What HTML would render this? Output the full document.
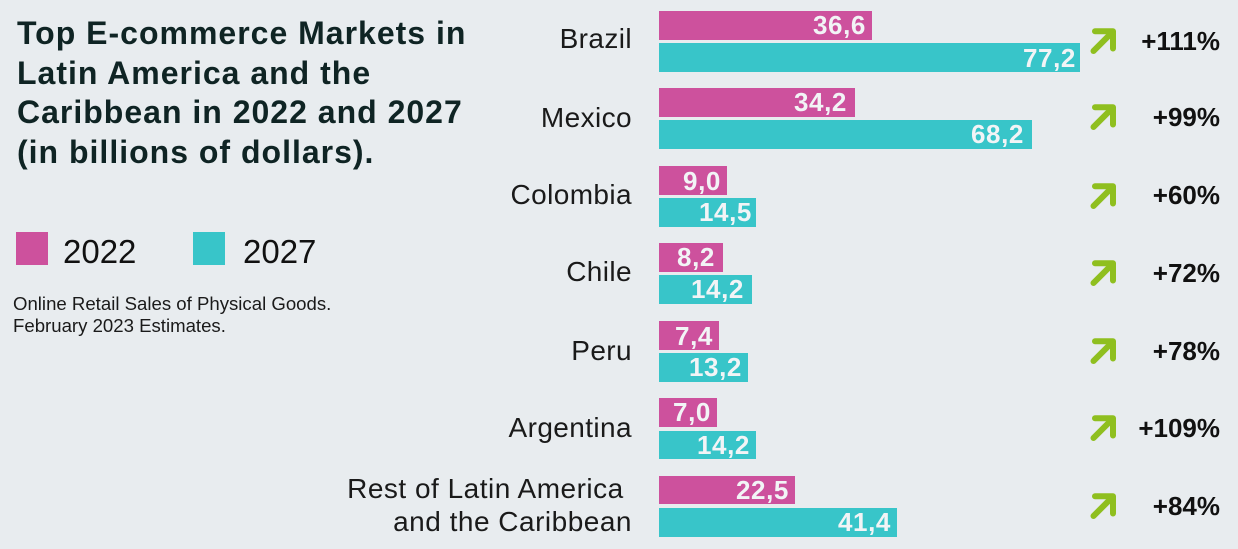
<!DOCTYPE html>
<html>
<head>
<meta charset="utf-8">
<style>
  html, body { margin:0; padding:0; }
  body {
    width:1238px; height:549px; overflow:hidden; position:relative;
    background:#e8ecef;
    font-family:"Liberation Sans", sans-serif;
  }
  .title {
    position:absolute; left:17px; top:14px; width:520px;
    font-size:32px; line-height:39.5px; font-weight:bold; color:#0f2424;
    letter-spacing:1px;
  }
  .sq { position:absolute; width:32px; height:33px; top:232px; }
  .leg { position:absolute; top:235px; font-size:33px; line-height:33px; color:#111; }
  .note { position:absolute; left:13px; top:292.6px; font-size:18.6px; line-height:22px; color:#1a1a1a; }
  .lab {
    position:absolute; right:606px; font-size:28px; line-height:28px; color:#1a1a1a;
    text-align:right; letter-spacing:0.4px; white-space:nowrap;
  }
  .bar {
    position:absolute; left:659px; box-sizing:border-box;
    display:flex; align-items:center; justify-content:flex-end;
    padding-right:6px;
    font-size:26px; line-height:26px; font-weight:bold; color:#f2f4f6; letter-spacing:0.6px;
  }
  .a { background:#cd519d; }
  .b { background:#38c5c9; }
  .pct {
    position:absolute; right:18px; font-size:26px; line-height:26px; font-weight:bold; color:#111;
    text-align:right; white-space:nowrap;
  }
  svg.arr { position:absolute; left:1089px; width:28px; height:28px; }
</style>
</head>
<body>
  <div class="title">Top E-commerce Markets in<br>Latin America and the<br>Caribbean in 2022 and 2027<br>(in billions of dollars).</div>

  <div class="sq" style="left:16px;background:#cd519d;"></div>
  <div class="leg" style="left:63px;">2022</div>
  <div class="sq" style="left:193px;background:#38c5c9;"></div>
  <div class="leg" style="left:243px;">2027</div>

  <div class="note">Online Retail Sales of Physical Goods.<br>February 2023 Estimates.</div>

  <!-- Country labels -->
  <div class="lab" style="top:25px;">Brazil</div>
  <div class="lab" style="top:104px;">Mexico</div>
  <div class="lab" style="top:181px;">Colombia</div>
  <div class="lab" style="top:258px;">Chile</div>
  <div class="lab" style="top:337px;">Peru</div>
  <div class="lab" style="top:414px;">Argentina</div>
  <div class="lab" style="top:471.9px; line-height:33.4px; letter-spacing:0.5px;">Rest of Latin America&nbsp;<br>and the Caribbean</div>

  <!-- Bars -->
  <div class="bar a" style="top:11px;height:28.5px;width:213px;">36,6</div>
  <div class="bar b" style="top:43px;height:29px;width:421px;padding-right:4px;">77,2</div>

  <div class="bar a" style="top:88px;height:28.7px;width:196px;padding-right:8px;">34,2</div>
  <div class="bar b" style="top:120px;height:28.7px;width:373px;padding-right:8px;">68,2</div>

  <div class="bar a" style="top:166px;height:29px;width:68px;">9,0</div>
  <div class="bar b" style="top:197.7px;height:29px;width:97px;padding-right:4px;">14,5</div>

  <div class="bar a" style="top:243px;height:28.7px;width:64px;padding-right:8px;">8,2</div>
  <div class="bar b" style="top:275px;height:28.7px;width:93px;padding-right:8px;">14,2</div>

  <div class="bar a" style="top:321px;height:29px;width:60px;">7,4</div>
  <div class="bar b" style="top:352.7px;height:29px;width:89px;">13,2</div>

  <div class="bar a" style="top:398px;height:28.7px;width:58px;">7,0</div>
  <div class="bar b" style="top:430.7px;height:28px;width:97px;">14,2</div>

  <div class="bar a" style="top:475.7px;height:28.6px;width:136px;">22,5</div>
  <div class="bar b" style="top:507.7px;height:29px;width:238px;">41,4</div>

  <!-- Arrows -->
  <svg class="arr" style="top:26.5px;" viewBox="0 0 28 28"><g fill="none" stroke="#8fbf1f" stroke-width="6" stroke-linecap="round"><path d="M4.5 24 L22 6.5"/><path d="M6 4.2 L24 4.2 L24 21.5" stroke-linejoin="round"/></g></svg>
  <svg class="arr" style="top:103px;" viewBox="0 0 28 28"><g fill="none" stroke="#8fbf1f" stroke-width="6" stroke-linecap="round"><path d="M4.5 24 L22 6.5"/><path d="M6 4.2 L24 4.2 L24 21.5" stroke-linejoin="round"/></g></svg>
  <svg class="arr" style="top:181.5px;" viewBox="0 0 28 28"><g fill="none" stroke="#8fbf1f" stroke-width="6" stroke-linecap="round"><path d="M4.5 24 L22 6.5"/><path d="M6 4.2 L24 4.2 L24 21.5" stroke-linejoin="round"/></g></svg>
  <svg class="arr" style="top:259px;" viewBox="0 0 28 28"><g fill="none" stroke="#8fbf1f" stroke-width="6" stroke-linecap="round"><path d="M4.5 24 L22 6.5"/><path d="M6 4.2 L24 4.2 L24 21.5" stroke-linejoin="round"/></g></svg>
  <svg class="arr" style="top:337px;" viewBox="0 0 28 28"><g fill="none" stroke="#8fbf1f" stroke-width="6" stroke-linecap="round"><path d="M4.5 24 L22 6.5"/><path d="M6 4.2 L24 4.2 L24 21.5" stroke-linejoin="round"/></g></svg>
  <svg class="arr" style="top:414px;" viewBox="0 0 28 28"><g fill="none" stroke="#8fbf1f" stroke-width="6" stroke-linecap="round"><path d="M4.5 24 L22 6.5"/><path d="M6 4.2 L24 4.2 L24 21.5" stroke-linejoin="round"/></g></svg>
  <svg class="arr" style="top:492px;" viewBox="0 0 28 28"><g fill="none" stroke="#8fbf1f" stroke-width="6" stroke-linecap="round"><path d="M4.5 24 L22 6.5"/><path d="M6 4.2 L24 4.2 L24 21.5" stroke-linejoin="round"/></g></svg>

  <!-- Percentages -->
  <div class="pct" style="top:28px;">+111%</div>
  <div class="pct" style="top:104px;">+99%</div>
  <div class="pct" style="top:182px;">+60%</div>
  <div class="pct" style="top:259.5px;">+72%</div>
  <div class="pct" style="top:338px;">+78%</div>
  <div class="pct" style="top:415px;">+109%</div>
  <div class="pct" style="top:493px;">+84%</div>
</body>
</html>
